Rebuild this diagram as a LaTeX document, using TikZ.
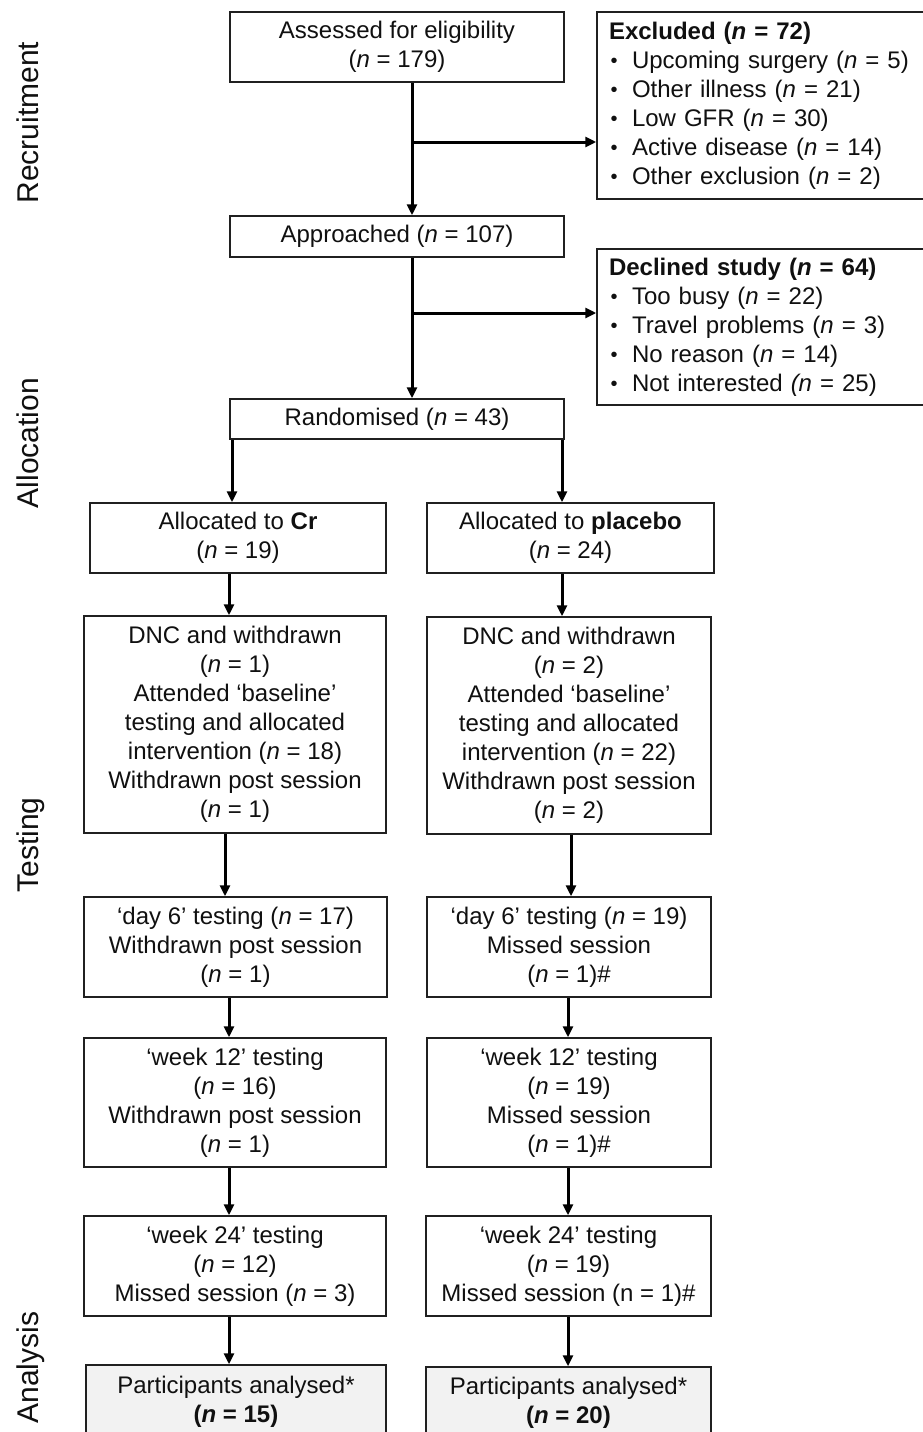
\documentclass[tikz,border=0pt]{standalone}
\usepackage{fontspec}
\setmainfont{Liberation Sans}
\usetikzlibrary{arrows.meta}
\definecolor{boxc}{HTML}{202020}
\definecolor{txt}{HTML}{101010}
\definecolor{partfill}{HTML}{F2F2F2}
\newcommand\mainfs{\fontsize{24}{29}\selectfont}
\newcommand\sidefs{\fontsize{30}{36}\selectfont}
\newcommand\bul{\makebox[23pt][l]{\hspace{1.5pt}\raisebox{0.3pt}{\fontsize{20}{20}\selectfont •}}}
\newcommand\nn{\textit{n}}
\begin{document}
\begin{tikzpicture}[x=1pt,y=-1pt,
  box/.style={draw=boxc, line width=1.5pt, inner sep=0pt, align=center, font=\mainfs, text=txt},
  lbox/.style={draw=boxc, line width=1.5pt, inner xsep=12pt, inner ysep=0pt, align=left, font=\mainfs, text=txt},
  pbox/.style={box, fill=partfill},
  arr/.style={line width=3pt, draw=black, -{Triangle[length=11pt,width=10pt]}},
  side/.style={rotate=90, anchor=base, font=\sidefs, text=txt, inner sep=0pt},
]
\fill[white] (0,0) rectangle (923,1432);
\useasboundingbox (0,0) rectangle (923,1432);

% side labels
\node[side] (lrec) at (38,122.5) {Recruitment};
\node[side] (lall) at (38,443) {Allocation};
\node[side] (ltes) at (38,845) {Testing};
\node[side] (lana) at (38,1367.5) {Analysis};

% top column
\node[box, minimum width=334pt, minimum height=70pt] (assess) at (397,47)
  {Assessed for eligibility\\(\nn{} = 179)};
\node[lbox, text width=304pt, minimum height=187pt] (excl) at (761,105.5)
  {\textbf{Excluded (\nn{} = 72)}\\
   \bul Upcoming surgery (\nn{} = 5)\\
   \bul Other illness (\nn{} = 21)\\
   \bul Low GFR (\nn{} = 30)\\
   \bul Active disease (\nn{} = 14)\\
   \bul Other exclusion (\nn{} = 2)};
\node[box, minimum width=334pt, minimum height=41pt] (appr) at (397,236.5)
  {Approached (\nn{} = 107)};
\node[lbox, text width=304pt, minimum height=156pt] (decl) at (761,327)
  {\textbf{Declined study (\nn{} = 64)}\\
   \bul Too busy (\nn{} = 22)\\
   \bul Travel problems (\nn{} = 3)\\
   \bul No reason (\nn{} = 14)\\
   \bul Not interested \textit{(n} = 25)};
\node[box, minimum width=334pt, minimum height=40pt] (rand) at (397,419)
  {Randomised (\nn{} = 43)};

% Cr column
\node[box, minimum width=296pt, minimum height=70pt] (allocCr) at (238,538)
  {Allocated to \textbf{Cr}\\(\nn{} = 19)};
\node[box, minimum width=302pt, minimum height=217pt] (dncCr) at (235,724.5)
  {DNC and withdrawn\\(\nn{} = 1)\\Attended ‘baseline’\\testing and allocated\\intervention (\nn{} = 18)\\Withdrawn post session\\(\nn{} = 1)};
\node[box, minimum width=303pt, minimum height=100pt] (d6Cr) at (235.5,947)
  {‘day 6’ testing (\nn{} = 17)\\Withdrawn post session\\(\nn{} = 1)};
\node[box, minimum width=302pt, minimum height=129pt] (w12Cr) at (235,1102.5)
  {‘week 12’ testing\\(\nn{} = 16)\\Withdrawn post session\\(\nn{} = 1)};
\node[box, minimum width=302pt, minimum height=100pt] (w24Cr) at (235,1266)
  {‘week 24’ testing\\(\nn{} = 12)\\Missed session (\nn{} = 3)};
\node[pbox, minimum width=300pt, minimum height=73pt] (partCr) at (236,1401.5)
  {Participants analysed*\\\textbf{(\textit{n} = 15)}};

% placebo column
\node[box, minimum width=287pt, minimum height=70pt] (allocPl) at (570.5,538)
  {Allocated to \textbf{placebo}\\(\nn{} = 24)};
\node[box, minimum width=284pt, minimum height=217pt] (dncPl) at (569,725.5)
  {DNC and withdrawn\\(\nn{} = 2)\\Attended ‘baseline’\\testing and allocated\\intervention (\nn{} = 22)\\Withdrawn post session\\(\nn{} = 2)};
\node[box, minimum width=284pt, minimum height=100pt] (d6Pl) at (569,947)
  {‘day 6’ testing (\nn{} = 19)\\Missed session\\(\nn{} = 1)\#};
\node[box, minimum width=284pt, minimum height=129pt] (w12Pl) at (569,1102.5)
  {‘week 12’ testing\\(\nn{} = 19)\\Missed session\\(\nn{} = 1)\#};
\node[box, minimum width=285pt, minimum height=100pt] (w24Pl) at (568.5,1266)
  {‘week 24’ testing\\(\nn{} = 19)\\Missed session (n = 1)\#};
\node[pbox, minimum width=285pt, minimum height=71pt] (partPl) at (568.5,1402.5)
  {Participants analysed*\\\textbf{(\textit{n} = 20)}};

% connector x positions
\coordinate (mx) at (412,0);
\coordinate (b1) at (412,142);
\coordinate (b2) at (412,313);
\coordinate (rl) at (232,0);
\coordinate (rr) at (562,0);
\coordinate (ca) at (229,0);
\coordinate (cb) at (225,0);
\coordinate (pb) at (571,0);
\coordinate (pc) at (568,0);

% main column connectors
\draw[arr] (mx |- assess.south) -- (mx |- appr.north);
\draw[arr] (b1) -- (b1 -| excl.west);
\draw[arr] (mx |- appr.south) -- (mx |- rand.north);
\draw[arr] (b2) -- (b2 -| decl.west);
\draw[arr] (rl |- rand.south) -- (rl |- allocCr.north);
\draw[arr] (rr |- rand.south) -- (rr |- allocPl.north);

% Cr connectors
\draw[arr] (ca |- allocCr.south) -- (ca |- dncCr.north);
\draw[arr] (cb |- dncCr.south) -- (cb |- d6Cr.north);
\draw[arr] (ca |- d6Cr.south) -- (ca |- w12Cr.north);
\draw[arr] (ca |- w12Cr.south) -- (ca |- w24Cr.north);
\draw[arr] (ca |- w24Cr.south) -- (ca |- partCr.north);

% placebo connectors
\draw[arr] (rr |- allocPl.south) -- (rr |- dncPl.north);
\draw[arr] (pb |- dncPl.south) -- (pb |- d6Pl.north);
\draw[arr] (pc |- d6Pl.south) -- (pc |- w12Pl.north);
\draw[arr] (pc |- w12Pl.south) -- (pc |- w24Pl.north);
\draw[arr] (pc |- w24Pl.south) -- (pc |- partPl.north);
\end{tikzpicture}
\end{document}
